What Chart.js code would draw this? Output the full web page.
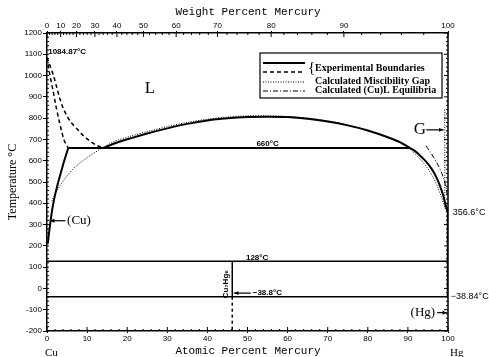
<!DOCTYPE html>
<html>
<head>
<meta charset="utf-8">
<script src="https://cdn.jsdelivr.net/npm/chart.js@4.4.1/dist/chart.umd.min.js"></script>
<style>
  body { margin: 0; background: #fff; }
  #wrap { width: 489px; height: 357px; }
</style>
</head>
<body>
<div id="wrap"><canvas id="phaseChart" width="489" height="357"></canvas></div>
<script>
// tick labels
var atomicTicks = [0, 10, 20, 30, 40, 50, 60, 70, 80, 90, 100];
var weightTicks = [0, 10, 20, 30, 40, 50, 60, 70, 80, 90, 100];
var tempTicks = [-200, -100, 0, 100, 200, 300, 400, 500, 600, 700, 800, 900, 1000, 1100, 1200];

// experimental boundaries (solid)
var cuSolvusX = [0.2, 0.5, 0.9, 1.3, 1.9, 2.6, 3.4, 4.3, 5.3];
var cuSolvusT = [210, 260, 318, 370, 430, 485, 540, 600, 660];
var gapX = [14, 17, 21, 25, 30, 35, 40, 45, 50, 55, 60, 65, 70, 75, 80, 85, 88, 90.5];
var gapT = [660, 682, 706, 728, 752, 773, 789, 799, 805, 807, 805, 797, 784, 766, 742, 710, 687, 660];
var hgLiquidusX = [90.5, 91.8, 93, 94.2, 95.3, 96.3, 97.2, 98, 98.7, 99.2, 99.6, 99.85, 100];
var hgLiquidusT = [660, 645, 625, 603, 578, 550, 518, 482, 443, 408, 380, 365, 356.6];
var monotecticX = [5.3, 90.5];
var monotecticT = [660, 660];
var peritecticX = [0, 100];
var peritecticT = [128, 128];
var eutecticX = [0, 100];
var eutecticT = [-38.8, -38.8];
var compoundX = [46.2, 46.2];
var compoundT = [128, -38.8];
var hgEdgeX = [100, 100];
var hgEdgeT = [356.6, -38.84];

// experimental boundaries (dashed)
var liquidusOuterX = [0, 0.8, 1.6, 2.4, 3.2, 4.0, 4.9, 6.0, 7.4, 8.6, 9.9, 11.2, 12.4, 14];
var liquidusOuterT = [1084.87, 1045, 1002, 946, 892, 848, 813, 780, 751, 726, 704, 686, 672, 660];
var liquidusInnerX = [0, 0.7, 1.5, 2.2, 3, 3.6, 4.2, 4.8, 5.3];
var liquidusInnerT = [1084.87, 1005, 930, 860, 790, 742, 700, 675, 660];
var compoundLowX = [46.2, 46.2];
var compoundLowT = [-38.8, -200];

// calculated miscibility gap (dotted)
var calcGapX = [1.2, 2.2, 3.5, 5, 7, 10, 14, 17, 21, 25, 30, 35, 40, 45, 50, 55, 60, 65, 70, 75, 80, 85, 88, 90.5, 92, 93.5, 95, 96.3, 97.3, 98.3, 99.2, 99.7];
var calcGapT = [410, 450, 490, 530, 570, 615, 662, 692, 716, 737, 760, 780, 795, 805, 811, 811, 808, 800, 787, 768, 743, 709, 684, 655, 628, 598, 562, 522, 482, 432, 382, 356];

// calculated (Cu)L equilibria (dash-dot)
var calcCuLX = [94.5, 95.6, 96.6, 97.5, 98.3, 99, 99.5, 99.8];
var calcCuLT = [670, 640, 610, 580, 548, 510, 475, 440];

// gas boundary (dotted)
var gasX = [99.2, 99.2];
var gasT = [840, 380];

function pts(xs, ts) {
  return xs.map(function(v, i) { return { x: v, y: ts[i] }; });
}

function wtToAt(w) {
  if (w >= 100) return 100;
  var nHg = w / 200.59, nCu = (100 - w) / 63.546;
  return 100 * nHg / (nHg + nCu);
}

var solid = { borderColor: '#000', borderWidth: 2, pointRadius: 0, showLine: true, fill: false };
function line(xs, ts, extra) {
  return Object.assign({ data: pts(xs, ts) }, solid, extra || {});
}

var datasets = [
  line(cuSolvusX, cuSolvusT, { tension: 0.3 }),
  line(gapX, gapT, { cubicInterpolationMode: 'monotone' }),
  line(hgLiquidusX, hgLiquidusT, { tension: 0.3 }),
  line(monotecticX, monotecticT),
  line(peritecticX, peritecticT, { borderWidth: 1.5 }),
  line(eutecticX, eutecticT, { borderWidth: 1.5 }),
  line(compoundX, compoundT, { borderWidth: 1.5 }),
  line(hgEdgeX, hgEdgeT, { borderWidth: 2.5 }),
  line(liquidusOuterX, liquidusOuterT, { borderWidth: 1.5, borderDash: [4, 3], tension: 0.3 }),
  line(liquidusInnerX, liquidusInnerT, { borderWidth: 1.5, borderDash: [4, 3], tension: 0.3 }),
  line(compoundLowX, compoundLowT, { borderWidth: 1.5, borderDash: [3, 3] }),
  line(calcGapX, calcGapT, { borderWidth: 1, borderDash: [1, 1.5], tension: 0.3 }),
  line(calcCuLX, calcCuLT, { borderWidth: 1, borderDash: [5, 2, 1, 2], tension: 0.3 }),
  line(gasX, gasT, { borderWidth: 1, borderDash: [1, 1.5] })
];

// text placed in data coordinates
var notes = [
  { text: '1084.87°C', x: 0.3, t: 1110, align: 'left', font: 'bold 8px "Liberation Sans"' },
  { text: 'L', x: 25.7, t: 940, align: 'center', font: '17px "Liberation Serif"' },
  { text: '660°C', x: 55, t: 680, align: 'center', font: 'bold 8px "Liberation Sans"' },
  { text: '128°C', x: 52.4, t: 145, align: 'center', font: 'bold 8px "Liberation Sans"' },
  { text: '−38.8°C', x: 51.3, t: -22, align: 'left', font: 'bold 8px "Liberation Sans"' },
  { text: 'G', x: 93, t: 745, align: 'center', font: '17px "Liberation Serif"' },
  { text: '(Cu)', x: 5, t: 318, align: 'left', font: '13px "Liberation Serif"' },
  { text: '(Hg)', x: 96.8, t: -114, align: 'right', font: '13px "Liberation Serif"' },
  { text: '356.6°C', x: 101.2, t: 356, align: 'left', font: '9px "Liberation Sans"' },
  { text: '−38.84°C', x: 100.7, t: -36, align: 'left', font: '9px "Liberation Sans"' }
];
var arrows = [
  { x1: 4.6, t1: 318, x2: 0.7, t2: 318 },
  { x1: 97.3, t1: -114, x2: 99.8, t2: -114 },
  { x1: 94.6, t1: 745, x2: 98.9, t2: 745 },
  { x1: 50.8, t1: -22, x2: 46.6, t2: -22 }
];

function arrow(ctx, x1, y1, x2, y2) {
  var ang = Math.atan2(y2 - y1, x2 - x1);
  ctx.beginPath();
  ctx.moveTo(x1, y1); ctx.lineTo(x2, y2);
  ctx.stroke();
  ctx.beginPath();
  ctx.moveTo(x2, y2);
  ctx.lineTo(x2 - 5 * Math.cos(ang - 0.4), y2 - 5 * Math.sin(ang - 0.4));
  ctx.lineTo(x2 - 5 * Math.cos(ang + 0.4), y2 - 5 * Math.sin(ang + 0.4));
  ctx.closePath();
  ctx.fill();
}

var decor = {
  id: 'decor',
  afterDraw: function(chart) {
    var ctx = chart.ctx, a = chart.chartArea;
    var xs = chart.scales.x, ys = chart.scales.y;
    var px = function(v) { return xs.getPixelForValue(v); };
    var py = function(v) { return ys.getPixelForValue(v); };
    ctx.save();
    ctx.strokeStyle = '#000';
    ctx.fillStyle = '#000';

    // right frame with ticks
    ctx.lineWidth = 1.5;
    ctx.beginPath(); ctx.moveTo(a.right, a.top); ctx.lineTo(a.right, a.bottom); ctx.stroke();
    ctx.lineWidth = 1;
    ctx.beginPath();
    for (var t = -200; t <= 1200; t += 20) {
      var len = t % 100 === 0 ? 4 : 2;
      ctx.moveTo(a.right, py(t)); ctx.lineTo(a.right - len, py(t));
      ctx.moveTo(a.left, py(t)); ctx.lineTo(a.left + 2, py(t));
    }
    for (var v = 0; v <= 100; v += 2) {
      ctx.moveTo(px(v), a.bottom); ctx.lineTo(px(v), a.bottom - (v % 10 === 0 ? 4 : 2));
    }
    for (var w = 0; w <= 100; w += 2) {
      ctx.moveTo(px(wtToAt(w)), a.top); ctx.lineTo(px(wtToAt(w)), a.top + (w % 10 === 0 ? 4 : 2));
    }
    ctx.stroke();

    // annotations
    ctx.textBaseline = 'middle';
    notes.forEach(function(n) {
      ctx.font = n.font;
      ctx.textAlign = n.align;
      ctx.fillText(n.text, px(n.x), py(n.t));
    });
    ctx.lineWidth = 1.2;
    arrows.forEach(function(r) { arrow(ctx, px(r.x1), py(r.t1), px(r.x2), py(r.t2)); });

    // compound label, rotated
    ctx.save();
    ctx.translate(px(44.6), py(20));
    ctx.rotate(-Math.PI / 2);
    ctx.font = 'bold 8px "Liberation Sans"';
    ctx.textAlign = 'center';
    ctx.fillText('Cu₇Hg₆', 0, 0);
    ctx.restore();

    // element labels under the axis
    ctx.font = '11px "Liberation Serif"';
    ctx.textAlign = 'left';
    ctx.fillText('Cu', px(0) - 2, a.bottom + 22);
    ctx.fillText('Hg', px(100) + 2, a.bottom + 22);

    // axis titles
    ctx.font = '11px "Liberation Mono"';
    ctx.textAlign = 'center';
    ctx.fillText('Weight Percent Mercury', 248, 12);
    ctx.fillText('Atomic Percent Mercury', 248, 351);
    ctx.save();
    ctx.translate(13, 182);
    ctx.rotate(-Math.PI / 2);
    ctx.font = '12px "Liberation Serif"';
    ctx.fillText('Temperature °C', 0, 0);
    ctx.restore();

    // legend box
    var lx = a.left + 213, ly = a.top + 20;
    ctx.fillStyle = '#fff';
    ctx.fillRect(lx, ly, 182, 45);
    ctx.fillStyle = '#000';
    ctx.lineWidth = 1.2;
    ctx.strokeRect(lx, ly, 182, 45);
    var styles = [
      { w: 2, dash: [] }, { w: 1.5, dash: [4, 3] }, { w: 1, dash: [1, 1.5] }, { w: 1, dash: [5, 2, 1, 2] }
    ];
    var rows = [10, 19, 29, 38];
    styles.forEach(function(s, i) {
      ctx.lineWidth = s.w;
      ctx.setLineDash(s.dash);
      ctx.beginPath();
      ctx.moveTo(lx + 3, ly + rows[i]); ctx.lineTo(lx + 45, ly + rows[i]);
      ctx.stroke();
    });
    ctx.setLineDash([]);
    ctx.font = '15px "Liberation Serif"';
    ctx.textAlign = 'left';
    ctx.fillText('{', lx + 48, ly + 15);
    ctx.font = 'bold 10px "Liberation Serif"';
    ctx.fillText('Experimental Boundaries', lx + 55, ly + 15);
    ctx.fillText('Calculated Miscibility Gap', lx + 55, ly + 28);
    ctx.fillText('Calculated (Cu)L Equilibria', lx + 55, ly + 37);
    ctx.restore();
  }
};

var tickFont = { family: 'Liberation Sans', size: 8 };

new Chart(document.getElementById('phaseChart'), {
  type: 'scatter',
  data: { datasets: datasets },
  options: {
    responsive: false,
    devicePixelRatio: 1,
    animation: false,
    layout: { padding: { left: 0, right: 41, top: 0, bottom: 0 } },
    plugins: { legend: { display: false }, tooltip: { enabled: false } },
    scales: {
      x: {
        type: 'linear', position: 'bottom', min: 0, max: 100,
        afterFit: function(s) { s.height = 26; },
        afterBuildTicks: function(s) { s.ticks = atomicTicks.map(function(v) { return { value: v }; }); },
        ticks: { font: tickFont, color: '#000', padding: 1, autoSkip: false, maxRotation: 0,
          callback: function(v) { return String(v); } },
        grid: { drawOnChartArea: false, tickLength: 2, color: '#000' },
        border: { color: '#000', width: 1.5, dash: [2, 2] }
      },
      x2: {
        type: 'linear', position: 'top', min: 0, max: 100,
        afterFit: function(s) { s.height = 33; },
        afterBuildTicks: function(s) { s.ticks = weightTicks.map(function(w) { return { value: wtToAt(w) }; }); },
        ticks: {
          font: tickFont, color: '#000', padding: 0, autoSkip: false, maxRotation: 0,
          callback: function(v, i) { return String(weightTicks[i]); }
        },
        grid: { drawOnChartArea: false, tickLength: 2, color: '#000' },
        border: { color: '#000', width: 1.5 }
      },
      y: {
        type: 'linear', position: 'left', min: -200, max: 1200,
        afterFit: function(s) { s.width = 47; },
        afterBuildTicks: function(s) { s.ticks = tempTicks.map(function(v) { return { value: v }; }); },
        ticks: { font: tickFont, color: '#000', padding: 1, callback: function(v) { return String(v); } },
        grid: { drawOnChartArea: false, tickLength: 4, color: '#000' },
        border: { color: '#000', width: 1.5 }
      }
    }
  },
  plugins: [decor]
});
</script>
</body>
</html>
